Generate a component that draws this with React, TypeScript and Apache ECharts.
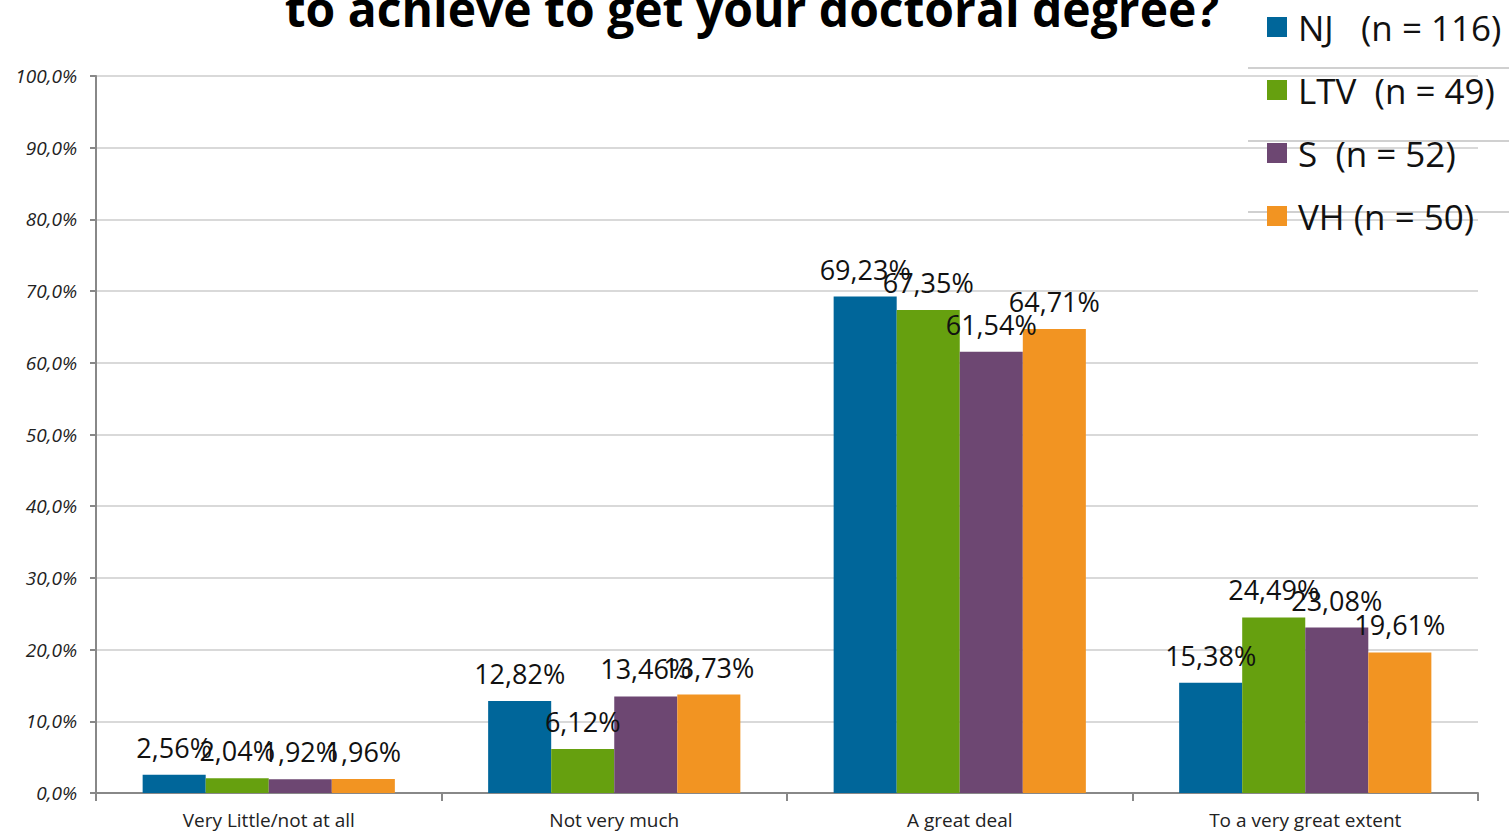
import React, { useEffect, useRef } from "react";
import * as echarts from "echarts";

const categories = ["Very Little/not at all", "Not very much", "A great deal", "To a very great extent"];
const seriesNames = ["NJ   (n = 116)", "LTV  (n = 49)", "S  (n = 52)", "VH (n = 50)"];
const njValues = [2.56, 12.82, 69.23, 15.38];
const ltvValues = [2.04, 6.12, 67.35, 24.49];
const sValues = [1.92, 13.46, 61.54, 23.08];
const vhValues = [1.96, 13.73, 64.71, 19.61];
const colors = ["#00669A", "#66A00F", "#6D4772", "#F29422"];
const titleText = "to achieve to get your doctoral degree?";

export default function App() {
  const ref = useRef<HTMLDivElement>(null);
  useEffect(() => {
    if (!ref.current) return;
    const chart = echarts.init(ref.current, null, { renderer: "svg" });
    const all = [njValues, ltvValues, sValues, vhValues];
    chart.setOption({
      animation: false,
      backgroundColor: "#ffffff",
      color: colors,
      graphic: [
        {
          type: "text",
          x: 752,
          y: -16,
          style: {
            text: titleText,
            font: "bold 48px 'Open Sans', sans-serif",
            fill: "#000",
            align: "center",
            verticalAlign: "top",
          },
        },
        { type: "line", shape: { x1: 1248, y1: 68, x2: 1509, y2: 68 }, style: { stroke: "#d0d0d0", lineWidth: 2 } },
        { type: "line", shape: { x1: 1248, y1: 141, x2: 1509, y2: 141 }, style: { stroke: "#d0d0d0", lineWidth: 2 } },
        { type: "line", shape: { x1: 1248, y1: 212, x2: 1509, y2: 212 }, style: { stroke: "#d0d0d0", lineWidth: 2 } },
      ],
      legend: {
        orient: "vertical",
        left: 1262,
        top: 2,
        itemWidth: 20,
        itemHeight: 20,
        itemGap: 23,
        icon: "rect",
        textStyle: { fontSize: 35, lineHeight: 40, color: "#111", fontFamily: "'Open Sans', sans-serif", padding: [0, 0, 0, 6] },
        data: seriesNames,
      },
      grid: { left: 96, right: 31, top: 76, bottom: 42 },
      xAxis: {
        type: "category",
        data: categories,
        axisLine: { lineStyle: { color: "#888", width: 2 } },
        axisTick: { show: true, length: 8, lineStyle: { color: "#888", width: 2 } },
        axisLabel: { fontSize: 19, color: "#222", margin: 17, fontFamily: "'Open Sans', sans-serif" },
      },
      yAxis: {
        type: "value",
        min: 0,
        max: 100,
        interval: 10,
        axisLine: { show: true, lineStyle: { color: "#888", width: 2 } },
        axisTick: { show: true, length: 6, lineStyle: { color: "#888", width: 2 } },
        splitLine: { lineStyle: { color: "#d9d9d9", width: 2 } },
        axisLabel: {
          fontSize: 19,
          fontStyle: "italic",
          color: "#222",
          margin: 19,
          fontFamily: "'Open Sans', sans-serif",
          formatter: (v: number) => v.toFixed(1).replace(".", ",") + "%",
        },
      },
      series: seriesNames.map((name, i) => ({
        name,
        type: "bar",
        data: all[i],
        barGap: "0%",
        barCategoryGap: "27%",
        itemStyle: { color: colors[i] },
        label: {
          show: true,
          position: "top",
          distance: 14,
          fontSize: 27,
          color: "#111",
          fontFamily: "'Open Sans', sans-serif",
          formatter: (p: any) => p.value.toFixed(2).replace(".", ",") + "%",
        },
      })),
    });
    return () => chart.dispose();
  }, []);
  return <div ref={ref} style={{ width: 1509, height: 835, position: "fixed", left: 0, top: 0 }} />;
}
